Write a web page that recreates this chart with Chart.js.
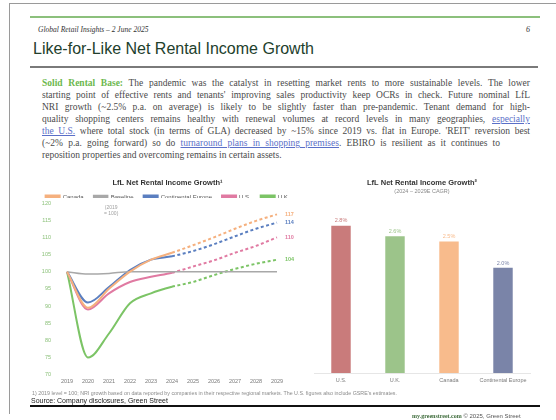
<!DOCTYPE html>
<html><head><meta charset="utf-8">
<script src="https://cdn.jsdelivr.net/npm/chart.js@4"></script>
<style>
html,body{margin:0;padding:0;background:#fff;width:556px;height:420px;overflow:hidden;position:relative;font-family:"Liberation Sans",Arial,sans-serif;}
.abs{position:absolute;white-space:nowrap;}
#frame{position:absolute;left:9px;top:3px;width:600px;height:410px;border-left:1.5px solid #9a9a9a;border-top:1.5px solid #9a9a9a;}
#gline{position:absolute;left:30px;top:16px;width:510px;height:1.5px;background:#8cc07c;}
#hdr{left:38px;top:25px;font:italic 7.5px "Liberation Serif",serif;color:#333;}
#pg{left:526px;top:25px;font:italic 8px "Liberation Serif",serif;color:#333;}
#title{left:33px;top:40px;font:16px "Liberation Sans",Arial,sans-serif;color:#22402c;}
#tline{position:absolute;left:30px;top:66px;width:508px;height:2px;background:#7a7a7a;}
#body{position:absolute;left:42px;top:77px;width:488px;font:9.5px/12px "Liberation Serif",serif;color:#4a4a4a;}
#body div{text-align:justify;text-align-last:justify;white-space:nowrap;}
#body div.last{text-align-last:left;}
.g{color:#6cb84e;font-weight:bold;}
.l{color:#5a6fc8;text-decoration:underline;}
#note{left:104px;top:204px;font:5px "Liberation Sans",Arial,sans-serif;color:#a0a0a0;line-height:6px;text-align:center;}
#foot{left:32px;top:390px;font:5.3px "Liberation Sans",Arial,sans-serif;color:#8a8a8a;}
#src{left:31px;top:397px;font:7px "Liberation Sans",Arial,sans-serif;color:#222;}
#bline{position:absolute;left:30px;top:405px;width:510px;height:2px;background:#111;}
#mg{left:412px;top:413px;font:6px "Liberation Sans",Arial,sans-serif;color:#555;}
#mg b{font-family:"Liberation Serif",serif;color:#3d6b3a;}
#lc{position:absolute;left:25px;top:172px;}
#bc{position:absolute;left:305px;top:172px;}
</style></head>
<body>
<div id="frame"></div>
<div id="gline"></div>
<div class="abs" id="hdr">Global Retail Insights – 2 June 2025</div>
<div class="abs" id="pg">6</div>
<div class="abs" id="title">Like-for-Like Net Rental Income Growth</div>
<div id="tline"></div>
<div id="body">
<div><span class="g">Solid Rental Base:</span> The pandemic was the catalyst in resetting market rents to more sustainable levels. The lower</div>
<div>starting point of effective rents and tenants' improving sales productivity keep OCRs in check. Future nominal LfL</div>
<div>NRI growth (~2.5% p.a. on average) is likely to be slightly faster than pre-pandemic. Tenant demand for high-</div>
<div>quality shopping centers remains healthy with renewal volumes at record levels in many geographies, <span class="l">especially</span></div>
<div><span class="l">the U.S.</span> where total stock (in terms of GLA) decreased by ~15% since 2019 vs. flat in Europe. 'REIT' reversion best</div>
<div style="width:458px">(~2% p.a. going forward) so do <span class="l">turnaround plans in shopping premises</span>. EBIRO is resilient as it continues to</div>
<div class="last">reposition properties and overcoming remains in certain assets.</div>
</div>
<canvas id="lc" width="285" height="222"></canvas>
<canvas id="bc" width="235" height="215"></canvas>
<div class="abs" id="note">(2019<br>= 100)</div>
<div class="abs" id="foot">1) 2019 level = 100; NRI growth based on data reported by companies in their respective regional markets. The U.S. figures also include GSRE's estimates.</div>
<div class="abs" id="src">Source: Company disclosures, Green Street</div>
<div id="bline"></div>
<div class="abs" id="mg"><b>my.greenstreet.com</b> © 2025, Green Street</div>
<script>
const years = ['2019','2020','2021','2022','2023','2024','2025','2026','2027','2028','2029'];
const canada = [100, 89.5, 95, 100, 103.5, 105.5, 107.7, 110, 112.5, 114.8, 116.7];
const baseline = [100, 99.3, 99.5, 100, 100, 100, 100, 100, 100, 100, 100];
const contEurope = [100, 91, 95.5, 100.5, 103.5, 104.5, 106, 108, 110.3, 112.5, 114.3];
const us = [100, 89, 93.7, 97, 98.5, 99.7, 101.5, 103.3, 105.5, 107.5, 110];
const uk = [100, 75, 82, 90.8, 93.7, 95.6, 97, 99, 100.8, 102.3, 103.5];
const forecastStart = 5; // 2024 onward dashed
const barCategories = ['U.S.','U.K.','Canada','Continental Europe'];
const barValues = [2.8, 2.6, 2.5, 2.0];

const C = {canada:'#f5b07e', base:'#a8a8a8', ce:'#5b7fc0', us:'#e07aa2', uk:'#7cc466'};
const dashSeg = {borderDash: ctx => ctx.p0DataIndex >= forecastStart ? [3,2.5] : undefined};
function ds(label, data, color, dashed, endLabel){
  return {label, data, borderColor:color, backgroundColor:color, borderWidth:2, pointRadius:0, tension:0.4,
    cubicInterpolationMode:'monotone', fill:false, segment: dashed ? dashSeg : undefined, endLabel};
}
const endLabels = {
  id:'endLabels',
  afterDatasetsDraw(chart){
    const ctx = chart.ctx;
    chart.data.datasets.forEach((d,i)=>{
      if(!d.endLabel) return;
      const meta = chart.getDatasetMeta(i);
      const p = meta.data[meta.data.length-1];
      ctx.save();
      ctx.font = 'bold 5.5px "Liberation Sans", Arial';
      ctx.fillStyle = d.borderColor;
      ctx.textAlign = 'left'; ctx.textBaseline = 'middle';
      ctx.fillText(Math.round(d.data[d.data.length-1]), p.x + 8, p.y);
      ctx.restore();
    });
  }
};
const legendFit = {
  id:'legendFit',
  beforeLayout(chart){
    const lg = chart.legend;
    if(lg && !lg._patched){
      const f = lg.fit;
      lg.fit = function(){ f.call(this); this.height = 14; };
      lg._patched = true;
    }
  },
  afterLayout(chart){
    if(chart.legend){ chart.legend.top -= 5; chart.legend.bottom -= 5; }
  }
};
const lineDatasets = [
  ds('Canada', canada, C.canada, true, true),
  Object.assign(ds('Baseline', baseline, C.base, false, false), {borderWidth:1.5}),
  ds('Continental Europe', contEurope, C.ce, true, true),
  ds('U.S.', us, C.us, true, true),
  ds('U.K.', uk, C.uk, true, true)
];
new Chart(document.getElementById('lc'), {
  type:'line',
  data:{labels:years, datasets:lineDatasets},
  plugins:[endLabels, legendFit],
  options:{
    responsive:false, animation:false, devicePixelRatio:1,
    layout:{padding:0},
    plugins:{
      tooltip:{enabled:false},
      title:{display:true, text:'LfL Net Rental Income Growth¹', color:'#333', font:{size:7.5, weight:'bold', family:'"Liberation Sans", Arial'}, padding:{top:6, bottom:2}},
      legend:{display:true, labels:{boxWidth:14, boxHeight:3, padding:10, color:'#555', font:{size:6, family:'"Liberation Sans", Arial'}}}
    },
    scales:{
      x:{offset:false, grid:{display:false, drawTicks:false}, border:{display:false},
        afterFit(s){ s.height = 14; },
        ticks:{color:'#7a7a7a', font:{size:5.5, family:'"Liberation Sans", Arial'}, padding:3, maxRotation:0, autoSkip:false}},
      y:{min:70, max:120, grid:{display:false, drawTicks:false}, border:{display:false},
        afterFit(s){ s.width = 42; },
        ticks:{stepSize:5, color:'#8cc17a', font:{size:5.5, family:'"Liberation Sans", Arial'}, padding:16}},
      yr:{position:'right', min:70, max:120, grid:{display:false, drawTicks:false}, border:{display:false},
        ticks:{display:false}, afterFit(s){ s.width = 33; }}
    }
  }
});

const barColors = ['#c97b7b','#9cc48a','#f8bb8c','#7a84a8'];
const barLabels = {
  id:'barLabels',
  afterDatasetsDraw(chart){
    const ctx = chart.ctx;
    const meta = chart.getDatasetMeta(0);
    meta.data.forEach((b,i)=>{
      ctx.save();
      ctx.font = '5.5px "Liberation Sans", Arial';
      ctx.fillStyle = barColors[i];
      ctx.textAlign='center'; ctx.textBaseline='bottom';
      ctx.fillText(barValues[i].toFixed(1)+'%', b.x, b.y - 2);
      ctx.restore();
    });
  }
};
new Chart(document.getElementById('bc'), {
  type:'bar',
  data:{labels:barCategories, datasets:[{data:barValues, backgroundColor:barColors, barPercentage:0.36, categoryPercentage:1}]},
  plugins:[barLabels],
  options:{
    responsive:false, animation:false, devicePixelRatio:1,
    layout:{padding:{left:9, right:10, top:0, bottom:0}},
    plugins:{
      tooltip:{enabled:false}, legend:{display:false},
      title:{display:true, text:'LfL Net Rental Income Growth²', color:'#333', font:{size:7.5, weight:'bold', family:'"Liberation Sans", Arial'}, padding:{top:6, bottom:1}},
      subtitle:{display:true, text:'(2024 – 2029E CAGR)', color:'#888', font:{size:5.5, family:'"Liberation Sans", Arial'}, padding:{top:0, bottom:10}}
    },
    scales:{
      x:{grid:{display:false, drawTicks:false}, border:{display:true, color:'#e6e6e6'},
        afterFit(s){ s.height = 14; },
        ticks:{color:'#7a7a7a', font:{size:5.5, family:'"Liberation Sans", Arial'}, padding:4}},
      y:{display:false, min:0, max:3.2}
    }
  }
});
</script>
</body></html>
